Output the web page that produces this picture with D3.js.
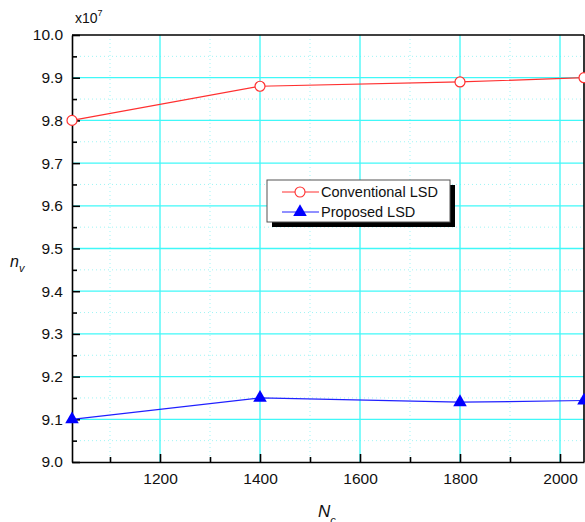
<!DOCTYPE html>
<html>
<head>
<meta charset="utf-8">
<script src="https://cdn.jsdelivr.net/npm/d3@7"></script>
<style>
  body { margin: 0; background: #fff; }
  text { font-family: Arial, "Liberation Sans", sans-serif; }
</style>
</head>
<body>
<script>
// data (values in units of 1e7)
var xs = [1024, 1400, 1800, 2048];
var conventional = [9.80, 9.88, 9.89, 9.90];
var proposed = [9.10, 9.15, 9.14, 9.144];
var xTicks = [1200, 1400, 1600, 1800, 2000];
var yTicks = [9.0, 9.1, 9.2, 9.3, 9.4, 9.5, 9.6, 9.7, 9.8, 9.9, 10.0];

var W = 585, H = 522;
// plot box (note: "top" is reserved on window, so use pTop etc.)
var pLeft = 72, pRight = 584, pTop = 35, pBottom = 462;

var x = d3.scaleLinear().domain([1024, 2048]).range([pLeft, pRight]);
var y = d3.scaleLinear().domain([9.0, 10.0]).range([pBottom, pTop]);

var svg = d3.select('body').append('svg')
  .attr('width', W).attr('height', H);

// minor grid (dotted)
var xMinor = d3.range(1100, 2048, 200);
var yMinor = d3.range(9.05, 10.0, 0.1);
svg.append('g').selectAll('line').data(xMinor).enter().append('line')
  .attr('x1', d => x(d)).attr('x2', d => x(d))
  .attr('y1', pTop).attr('y2', pBottom)
  .attr('stroke', '#9ff5f5').attr('stroke-dasharray', '1,3');
svg.append('g').selectAll('line').data(yMinor).enter().append('line')
  .attr('y1', d => y(d)).attr('y2', d => y(d))
  .attr('x1', pLeft).attr('x2', pRight)
  .attr('stroke', '#9ff5f5').attr('stroke-dasharray', '1,3');

// major grid
svg.append('g').selectAll('line').data(xTicks).enter().append('line')
  .attr('x1', d => x(d)).attr('x2', d => x(d))
  .attr('y1', pTop).attr('y2', pBottom)
  .attr('stroke', '#40f8f8').attr('stroke-width', 1.3);
svg.append('g').selectAll('line').data(yTicks.slice(1, -1)).enter().append('line')
  .attr('y1', d => y(d)).attr('y2', d => y(d))
  .attr('x1', pLeft).attr('x2', pRight)
  .attr('stroke', '#40f8f8').attr('stroke-width', 1.3);

// axes (ticks inward)
var yAxis = d3.axisLeft(y).tickValues(yTicks).tickFormat(d3.format('.1f'))
  .tickSizeInner(-8).tickSizeOuter(0).tickPadding(9);
svg.append('g').attr('transform', 'translate(' + pLeft + ',0)').call(yAxis)
  .selectAll('.tick text').attr('x', -9);
var yMinorAxis = d3.axisLeft(y).tickValues(yMinor).tickFormat('').tickSizeInner(-5).tickSizeOuter(0);
svg.append('g').attr('transform', 'translate(' + pLeft + ',0)').call(yMinorAxis)
  .select('.domain').remove();

var xAxis = d3.axisBottom(x).tickValues(xTicks).tickFormat(d3.format('d'))
  .tickSizeInner(-8).tickSizeOuter(0).tickPadding(12);
svg.append('g').attr('transform', 'translate(0,' + pBottom + ')').call(xAxis)
  .selectAll('.tick text').attr('y', 11);
var xMinorAxis = d3.axisBottom(x).tickValues(xMinor).tickFormat('').tickSizeInner(-5).tickSizeOuter(0);
svg.append('g').attr('transform', 'translate(0,' + pBottom + ')').call(xMinorAxis)
  .select('.domain').remove();

svg.selectAll('.tick text').attr('font-size', 15.5).attr('fill', '#111')
  .attr('font-family', 'Arial, "Liberation Sans", sans-serif');
svg.selectAll('.tick line').attr('stroke', '#000').attr('stroke-width', 1.6);
svg.selectAll('.domain').attr('stroke', '#000').attr('stroke-width', 1.6);

// frame top and right
svg.append('line').attr('x1', pLeft).attr('x2', pRight).attr('y1', pTop).attr('y2', pTop)
  .attr('stroke', '#000').attr('stroke-width', 1.6);
svg.append('line').attr('x1', pRight).attr('x2', pRight).attr('y1', pTop).attr('y2', pBottom)
  .attr('stroke', '#000').attr('stroke-width', 1.6);

// series lines
var line = d3.line().x((d, i) => x(xs[i])).y(d => y(d));
svg.append('path').datum(conventional).attr('d', line)
  .attr('fill', 'none').attr('stroke', '#ff3030').attr('stroke-width', 1.2);
svg.append('path').datum(proposed).attr('d', line)
  .attr('fill', 'none').attr('stroke', '#2020ff').attr('stroke-width', 1.2);

// markers
svg.append('g').selectAll('circle').data(conventional).enter().append('circle')
  .attr('cx', (d, i) => x(xs[i])).attr('cy', d => y(d)).attr('r', 5)
  .attr('fill', '#fff').attr('stroke', '#ff3030').attr('stroke-width', 1.2);
var tri = d3.symbol().type(d3.symbolTriangle).size(80);
svg.append('g').selectAll('path').data(proposed).enter().append('path')
  .attr('d', tri)
  .attr('transform', (d, i) => 'translate(' + x(xs[i]) + ',' + y(d) + ')')
  .attr('fill', '#0000ff');

// multiplier label
var mul = svg.append('text').attr('x', 75).attr('y', 23).attr('font-size', 14).attr('fill', '#111');
mul.append('tspan').text('x10');
mul.append('tspan').attr('dy', -7).attr('font-size', 9).text('7');

// axis titles
var yl = svg.append('text').attr('x', 10).attr('y', 267).attr('font-size', 16)
  .attr('font-style', 'italic').attr('fill', '#111');
yl.append('tspan').text('n');
yl.append('tspan').attr('dy', 5).attr('font-size', 11).text('v');

var xl = svg.append('text').attr('x', 318).attr('y', 517).attr('font-size', 17)
  .attr('font-style', 'italic').attr('fill', '#111');
xl.append('tspan').text('N');
xl.append('tspan').attr('dy', 7).attr('font-size', 11).text('c');

// legend
var lg = svg.append('g').attr('transform', 'translate(267,180)');
lg.append('rect').attr('x', 5).attr('y', 5).attr('width', 183).attr('height', 42).attr('fill', '#000');
lg.append('rect').attr('x', 0).attr('y', 0).attr('width', 183).attr('height', 42)
  .attr('fill', '#fff').attr('stroke', '#555').attr('stroke-width', 1);
var names = ['Conventional LSD', 'Proposed LSD'];
var colors = ['#ff3030', '#2020ff'];
names.forEach(function (n, i) {
  var cy = 12 + i * 20;
  lg.append('line').attr('x1', 15).attr('x2', 52).attr('y1', cy).attr('y2', cy)
    .attr('stroke', colors[i]).attr('stroke-width', 1);
  if (i === 0) {
    lg.append('circle').attr('cx', 33).attr('cy', cy).attr('r', 5)
      .attr('fill', '#fff').attr('stroke', colors[i]).attr('stroke-width', 1.1);
  } else {
    lg.append('path').attr('d', tri).attr('transform', 'translate(33,' + cy + ')')
      .attr('fill', '#0000ff');
  }
  lg.append('text').attr('x', 54).attr('y', cy + 5).attr('font-size', 14.5)
    .attr('fill', '#111').text(n);
});
</script>
</body>
</html>
